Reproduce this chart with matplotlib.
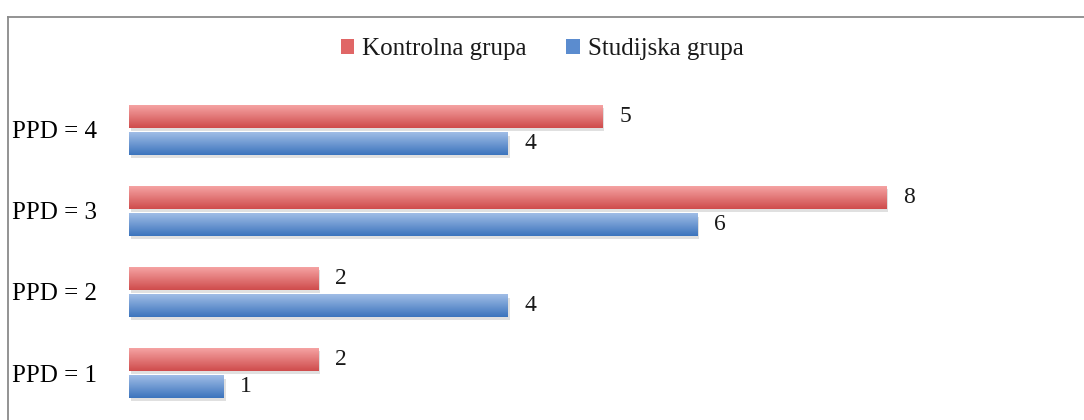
import numpy as np
import matplotlib
matplotlib.use("Agg")
import matplotlib.pyplot as plt
from matplotlib.colors import LinearSegmentedColormap
from matplotlib.lines import Line2D
from matplotlib.patches import Patch

kategorije = ["PPD = 1", "PPD = 2", "PPD = 3", "PPD = 4"]
kontrolna = [2, 2, 8, 5]
studijska = [1, 4, 6, 4]
serije = ["Kontrolna grupa", "Studijska grupa"]

plt.rcParams['font.family'] = ['Liberation Serif', 'DejaVu Serif']
plt.rcParams['text.color'] = '#1a1a1a'

W, H = 1084, 420
fig = plt.figure(figsize=(W / 100, H / 100), dpi=100)
ax = fig.add_axes([129 / W, 6.5 / H, 947 / W, 324 / H])

y = np.arange(len(kategorije))
h = 0.28
off = 0.17

crveni = LinearSegmentedColormap.from_list("crv", ["#cf4c4c", "#f5a3a3"])
plavi = LinearSegmentedColormap.from_list("plv", ["#3c74bd", "#a0bde6"])

b1 = ax.barh(y + off, kontrolna, height=h, color="#e57373", zorder=2)
b2 = ax.barh(y - off, studijska, height=h, color="#6f98d4", zorder=2)

grad = np.linspace(0, 1, 64).reshape(-1, 1)
for bars, cm in ((b1, crveni), (b2, plavi)):
    for p in bars:
        x0, y0 = p.get_x(), p.get_y()
        w, hh = p.get_width(), p.get_height()
        # soft shadow under each bar
        ax.add_patch(plt.Rectangle((x0 + 0.02, y0 - 0.04), w, hh,
                                   color="#000000", alpha=0.12, lw=0, zorder=1))
        im = ax.imshow(grad, cmap=cm, origin="lower", aspect="auto",
                       extent=(x0, x0 + w, y0, y0 + hh), zorder=3)
        im.set_clip_path(p)

ax.bar_label(b1, padding=12, fontsize=17)
ax.bar_label(b2, padding=12, fontsize=17)

ax.set_xlim(0, 10)
ax.set_ylim(-0.5, 3.5)
ax.set_yticks(y)
ax.set_yticklabels(kategorije, fontsize=18)
for lab in ax.get_yticklabels():
    lab.set_horizontalalignment('left')
ax.tick_params(axis='y', length=0, pad=84)
ax.set_xticks([])
for s in ax.spines.values():
    s.set_visible(False)

handles = [Patch(facecolor="#e06666"), Patch(facecolor="#5b8ccf")]
fig.legend(handles, serije, loc="center", bbox_to_anchor=(0.5, 1 - 49 / H),
           ncol=2, frameon=False, fontsize=18, handlelength=0.55,
           handleheight=0.55, handletextpad=0.3, columnspacing=1.6)

# frame around the chart area
rub = "#8a8a8a"
fig.add_artist(Line2D([8 / W, 1], [1 - 17 / H, 1 - 17 / H], color=rub, lw=1.3,
                      transform=fig.transFigure))
fig.add_artist(Line2D([8 / W, 8 / W], [0, 1 - 17 / H], color=rub, lw=1.3,
                      transform=fig.transFigure))

fig.savefig("out.png", dpi=100)
